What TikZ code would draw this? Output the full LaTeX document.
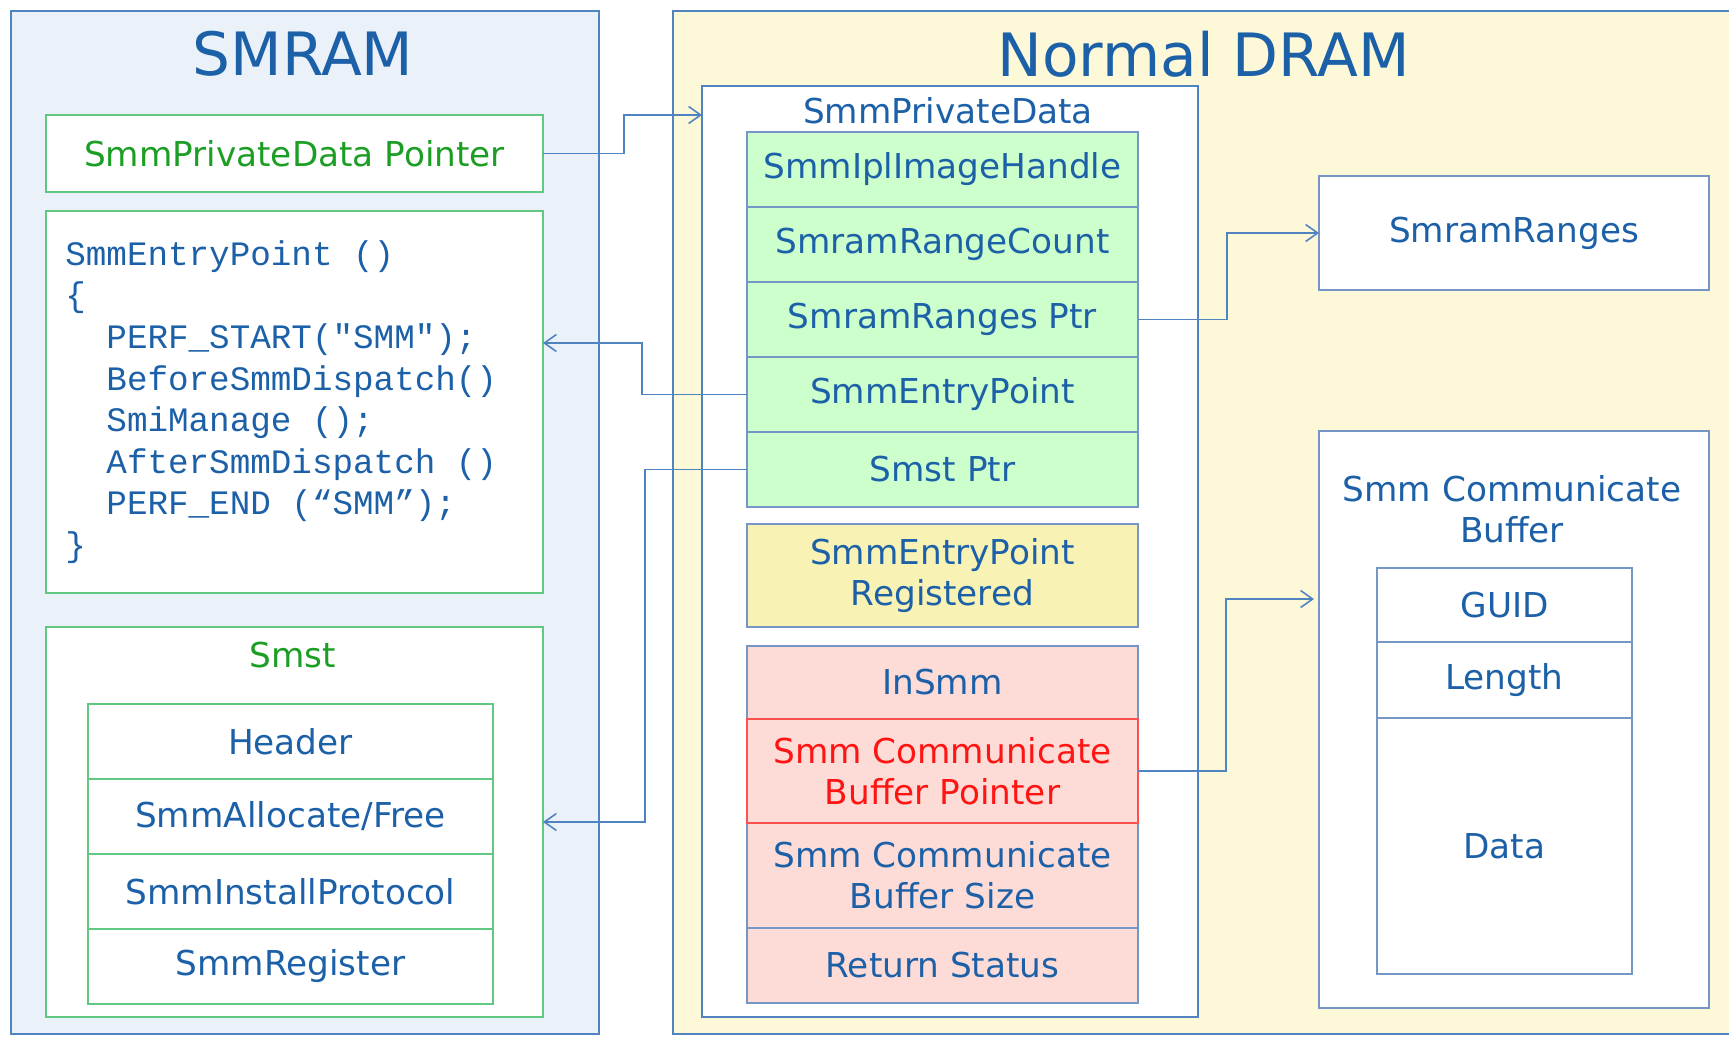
\documentclass[tikz,border=0pt]{standalone}
\usepackage{fontspec}
\setmainfont{DejaVu Sans}
\newfontfamily\codefont{Liberation Mono}
\usetikzlibrary{arrows.meta}

\definecolor{txtblue}{RGB}{28,96,168}
\definecolor{frameblue}{RGB}{80,132,192}
\definecolor{cellblue}{RGB}{118,150,198}
\definecolor{boxgreen}{RGB}{96,200,128}
\definecolor{txtgreen}{RGB}{28,158,36}
\definecolor{smrambg}{RGB}{234,241,249}
\definecolor{drambg}{RGB}{253,248,216}
\definecolor{cellgreen}{RGB}{204,255,204}
\definecolor{cellyellow}{RGB}{249,242,181}
\definecolor{cellpink}{RGB}{253,220,215}
\definecolor{ptrred}{RGB}{255,20,20}
\definecolor{ptrframe}{RGB}{255,80,80}

\newcommand{\lbl}{\fontsize{19.5}{23.5}\selectfont}
\newcommand{\ind}{\hspace*{23.4pt}}

\tikzset{
  sz/.style 2 args={minimum width=#1*0.02cm, minimum height=#2*0.02cm},
  region/.style={draw=frameblue, line width=1pt, inner sep=0pt, outer sep=0pt},
  gbox/.style={draw=boxgreen, fill=white, line width=1pt, inner sep=0pt, outer sep=0pt},
  gcell/.style={gbox, text=txtblue, font=\lbl},
  cell/.style={draw=cellblue, line width=0.9pt, inner sep=0pt, outer sep=0pt,
    text=txtblue, align=center, font=\lbl},
  title/.style={text=txtblue, font=\fontsize{34}{40}\selectfont},
  link/.style={draw=frameblue, line width=0.9pt,
    -{Straight Barb[length=0.24cm,width=0.34cm]}},
}

\begin{document}
\begin{tikzpicture}[x=0.02cm, y=-0.02cm]
  \useasboundingbox (0,0) rectangle (1729,1039);
  \fill[white] (0,0) rectangle (1729,1039);

  % Regions
  \node[region, fill=smrambg, sz={588}{1023}] (smram) at (305,522.5) {};
  \node[region, fill=drambg, sz={1067}{1023}] (dram) at (1206.5,522.5) {};
  \node[title] (smramtitle) at (303,54) {SMRAM};
  \node[title] (dramtitle) at (1204,54) {Normal DRAM};

  % SMRAM side
  \node[gbox, sz={497}{77}, text=txtgreen, font=\lbl] (ptr) at (294.5,153.5) {SmmPrivateData Pointer};
  \node[gbox, sz={497}{382}] (code) at (294.5,402) {};
  \node[anchor=west, align=left, inner sep=0pt, text=txtblue,
    font=\codefont\fontsize{19.5}{23.7}\selectfont] (codetext) at (65,402)
    {SmmEntryPoint ()\\
     \{\\
     \ind PERF\_START("SMM");\\
     \ind BeforeSmmDispatch()\\
     \ind SmiManage ();\\
     \ind AfterSmmDispatch ()\\
     \ind PERF\_END (“SMM”);\\
     \}};

  \node[gbox, sz={497}{390}] (smst) at (294.5,822) {};
  \node[text=txtgreen, font=\lbl] (smsttitle) at (293,655) {Smst};
  \node[gcell, sz={405}{75}] (sthdr) at (290.5,741.5) {Header};
  \node[gcell, sz={405}{75}] (stalloc) at (290.5,816.5) {SmmAllocate/Free};
  \node[gcell, sz={405}{75}] (stinst) at (290.5,891.5) {SmmInstallProtocol};
  \node[gcell, sz={405}{75}] (streg) at (290.5,966.5) {SmmRegister};

  % SmmPrivateData
  \node[region, fill=white, sz={496}{931}] (pdata) at (950,551.5) {};
  \node[text=txtblue, font=\lbl] (pdatatitle) at (948,111) {SmmPrivateData};
  \node[cell, fill=cellgreen, sz={391}{75}] (image) at (942.5,169.5) {SmmIplImageHandle};
  \node[cell, fill=cellgreen, sz={391}{75}] (count) at (942.5,244.5) {SmramRangeCount};
  \node[cell, fill=cellgreen, sz={391}{75}] (rangesptr) at (942.5,319.5) {SmramRanges Ptr};
  \node[cell, fill=cellgreen, sz={391}{75}] (entry) at (942.5,394.5) {SmmEntryPoint};
  \node[cell, fill=cellgreen, sz={391}{75}] (smstptr) at (942.5,469.5) {Smst Ptr};
  \node[cell, fill=cellyellow, sz={391}{103}] (registered) at (942.5,575.5) {SmmEntryPoint\\Registered};
  \node[cell, fill=cellpink, sz={391}{73}] (insmm) at (942.5,682.5) {InSmm};
  \node[cell, fill=cellpink, sz={391}{105}] (bufsize) at (942.5,875.5) {Smm Communicate\\Buffer Size};
  \node[cell, fill=cellpink, sz={391}{75}] (status) at (942.5,965.5) {Return Status};
  \node[cell, fill=cellpink, draw=ptrframe, text=ptrred, sz={391}{104}] (bufptr) at (942.5,771) {Smm Communicate\\Buffer Pointer};

  % Right column
  \node[cell, fill=white, sz={390}{114}] (ranges) at (1514,233) {SmramRanges};
  \node[cell, fill=white, sz={390}{577}] (commbuf) at (1514,719.5) {};
  \node[text=txtblue, font=\lbl, align=center] (commtitle) at (1512,509) {Smm Communicate\\Buffer};
  \node[cell, fill=white, sz={255}{74}] (guid) at (1504.5,605) {GUID};
  \node[cell, fill=white, sz={255}{76}] (length) at (1504.5,680) {Length};
  \node[cell, fill=white, sz={255}{256}] (data) at (1504.5,846) {Data};

  % Pointers
  \draw[link] (ptr.east) -- ++(81,0) |- ([yshift=-0.58cm]pdata.north west);
  \draw[link] (entry.west) -- ++(-105,0) |- ([yshift=1.18cm]code.east);
  \draw[link] (smstptr.west) -- ++(-102,0) |- (smst.east);
  \draw[link] (rangesptr.east) -- ++(89,0) |- (ranges.west);
  \draw[link, shorten >=0.1cm] (bufptr.east) -- ++(88,0) |- ([yshift=2.41cm]commbuf.west);
\end{tikzpicture}
\end{document}
